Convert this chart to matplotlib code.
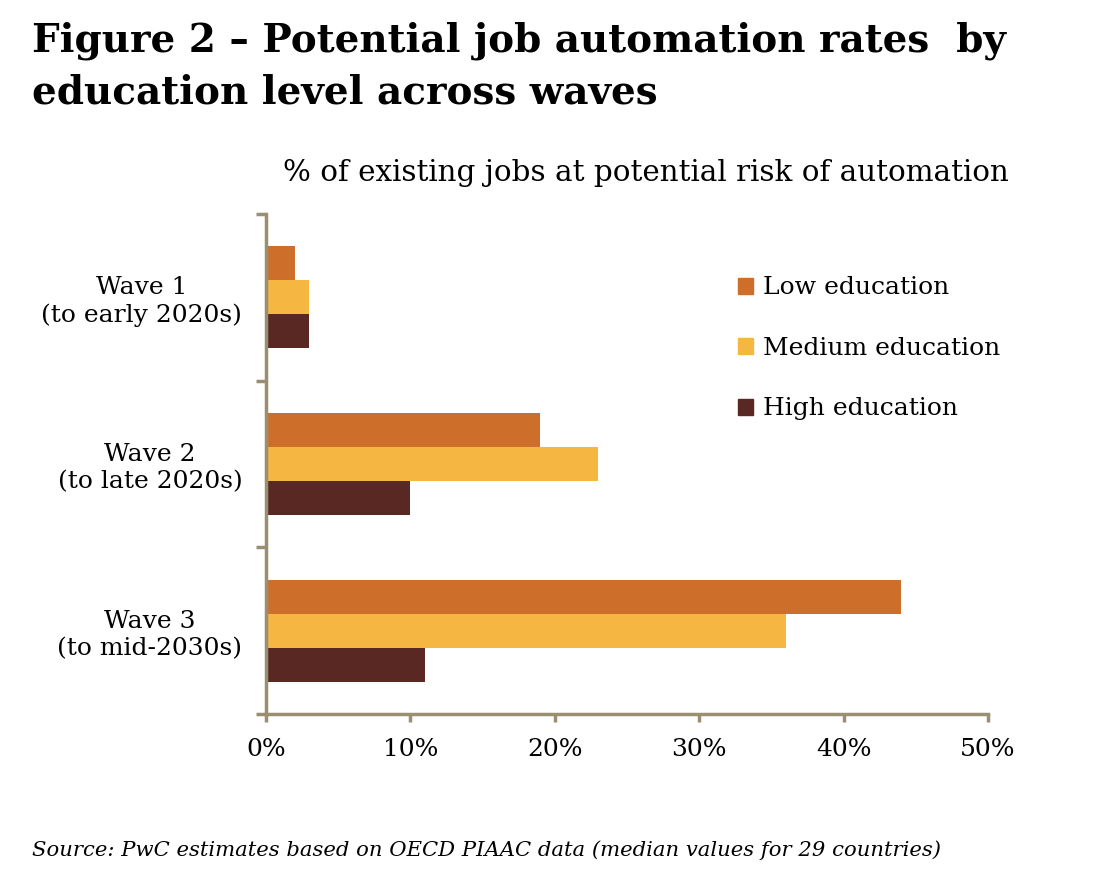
import numpy as np
import matplotlib
matplotlib.use("Agg")
import matplotlib.pyplot as plt
from matplotlib.patches import Patch

# data
waves = ["Wave 1\n(to early 2020s)", "Wave 2\n(to late 2020s)", "Wave 3\n(to mid-2030s)"]
series = ["Low education", "Medium education", "High education"]
low_edu = [2, 19, 44]
medium_edu = [3, 23, 36]
high_edu = [3, 10, 11]
x_ticks = [0, 10, 20, 30, 40, 50]

colors = ["#CD6F2B", "#F5B742", "#5A2823"]
axis_col = "#9A8F70"

plt.rcParams['font.family'] = ['DejaVu Serif']

fig = plt.figure(figsize=(10.94, 8.76), dpi=100)
ax = fig.add_axes([0.2431, 0.185, 0.66, 0.5708])

y = np.arange(len(waves))
h = 0.204
for i, vals in enumerate([low_edu, medium_edu, high_edu]):
    ax.barh(y + (i - 1) * h, vals, height=h, color=colors[i], label=series[i])

ax.set_xlim(0, 50)
ax.set_ylim(2.5, -0.5)

# separators between the waves
ax.set_yticks([-0.5, 0.5, 1.5, 2.5])
ax.set_yticklabels([])
ax.set_yticks(y, minor=True)
ax.set_yticklabels(waves, minor=True, fontsize=18, multialignment='center')
ax.tick_params(axis='y', which='major', length=7, width=2.5, color=axis_col, direction='out')
ax.tick_params(axis='y', which='minor', length=0, pad=17)

ax.set_xticks(x_ticks)
ax.set_xticklabels([f"{t}%" for t in x_ticks], fontsize=18)
ax.tick_params(axis='x', length=6, width=2.5, color=axis_col, direction='out', pad=11)

for s in ['top', 'right']:
    ax.spines[s].set_visible(False)
for s in ['left', 'bottom']:
    ax.spines[s].set_color(axis_col)
    ax.spines[s].set_linewidth(2.5)

handles = [Patch(color=c) for c in colors]
ax.legend(handles, series, loc='upper left', bbox_to_anchor=(0.623, 0.92), frameon=False,
          fontsize=18, handlelength=0.6, handleheight=0.6, handletextpad=0.4, labelspacing=1.5)

fig.text(0.029, 0.975, "Figure 2 – Potential job automation rates  by\neducation level across waves",
         fontsize=28, fontweight='bold', va='top', ha='left', linespacing=1.45)
fig.text(0.5905, 0.803, "% of existing jobs at potential risk of automation", fontsize=21.2,
         ha='center', va='center')
fig.text(0.029, 0.03, "Source: PwC estimates based on OECD PIAAC data (median values for 29 countries)",
         fontsize=15.2, style='italic', ha='left', va='center')

fig.savefig("out.png", dpi=100)
